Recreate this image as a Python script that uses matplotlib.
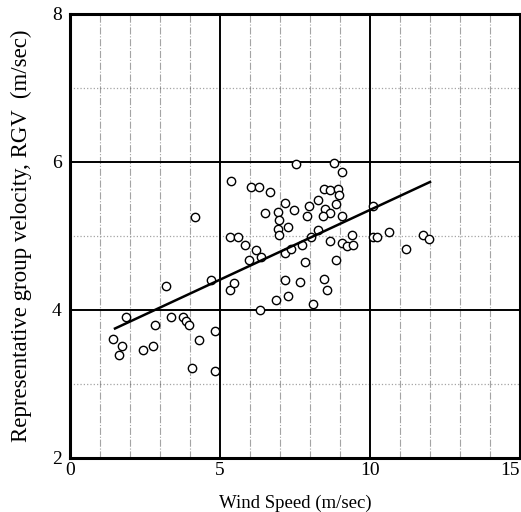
import matplotlib.pyplot as plt
import numpy as np

# wind speed (m/sec) and representative group velocity (m/sec)
wind = [1.44, 1.72, 1.63, 2.44, 2.78, 2.84, 3.19, 3.38, 3.75, 3.86, 3.97, 4.30,
        4.82, 4.06, 4.82, 4.71, 5.32, 5.45, 5.38, 6.02, 6.30, 6.67, 5.32, 5.60,
        5.82, 6.19, 5.96, 6.35, 6.32, 6.51, 6.87, 7.26, 7.18, 7.65, 7.15, 7.48,
        6.93, 6.98, 7.27, 6.93, 6.98, 7.18, 7.37, 7.74, 7.82, 7.96, 7.89, 8.26,
        8.09, 8.48, 8.56, 8.48, 8.67, 8.92, 8.98, 8.51, 8.65, 8.43, 8.87, 9.07,
        8.26, 8.04, 8.65, 9.07, 9.22, 9.42, 9.40, 8.79, 9.07, 7.52, 4.17, 10.09,
        10.10, 10.22, 10.62, 11.20, 11.78, 11.95, 1.88, 8.87]
rgv = [3.61, 3.51, 3.39, 3.46, 3.51, 3.80, 4.33, 3.91, 3.91, 3.85, 3.80, 3.60,
       3.72, 3.22, 3.18, 4.40, 4.27, 4.37, 5.75, 5.66, 5.66, 5.59, 4.98, 4.98,
       4.88, 4.81, 4.68, 4.72, 4.00, 5.31, 4.14, 4.19, 4.40, 4.38, 5.45, 5.35,
       5.32, 5.22, 5.12, 5.10, 5.01, 4.77, 4.83, 4.88, 4.65, 5.40, 5.27, 5.49,
       4.08, 4.42, 4.27, 5.63, 5.62, 5.63, 5.55, 5.36, 5.31, 5.27, 5.43, 5.27,
       5.08, 4.98, 4.93, 4.90, 4.86, 4.88, 5.01, 5.98, 5.87, 5.97, 5.26, 5.41,
       4.99, 4.99, 5.06, 4.83, 5.01, 4.96, 3.90, 4.68]

# regression line end points
fit_x = [1.5, 12.0]
fit_y = [3.75, 5.73]

x_ticks = [0, 5, 10, 15]
y_ticks = [2, 4, 6, 8]

serif = ["Liberation Serif", "DejaVu Serif"]

fig = plt.figure(figsize=(5.21, 5.12), dpi=100)
ax = fig.add_axes([70 / 521, 1 - 458 / 512, 450 / 521, 444 / 512])

# faint scanned sub-grid
for gx in range(1, 15):
    if gx in (5, 10):
        continue
    ax.axvline(gx, color="0.35", linestyle="-.", linewidth=0.8, alpha=0.55)
for gy in (3, 5, 7):
    ax.axhline(gy, color="0.35", linestyle=":", linewidth=0.9, alpha=0.55)

# main grid
for gx in (5, 10):
    ax.axvline(gx, color="black", linewidth=1.4)
for gy in (4, 6):
    ax.axhline(gy, color="black", linewidth=1.4)

ax.plot(wind, rgv, linestyle="none", marker="o", markersize=6,
        markerfacecolor="white", markeredgecolor="black", markeredgewidth=1.0)
ax.plot(fit_x, fit_y, color="black", linewidth=1.8)

ax.set_xlim(0, 15)
ax.set_ylim(2, 8)
ax.set_xticks(x_ticks)
ax.set_yticks(y_ticks)
ax.tick_params(axis="x", length=0, pad=3)
ax.tick_params(axis="y", length=0, pad=6)
for lab in ax.get_xticklabels() + ax.get_yticklabels():
    lab.set_family(serif)
    lab.set_fontsize(14)
ax.get_xticklabels()[-1].set_horizontalalignment("right")

for sp in ax.spines.values():
    sp.set_linewidth(2.2)

ax.set_xlabel("Wind Speed (m/sec)", family=serif, fontsize=13.5, labelpad=11)
ax.set_ylabel("Representative group velocity, RGV  (m/sec)", family=serif,
              fontsize=16.5, labelpad=14)

fig.savefig("out.png", dpi=100)
